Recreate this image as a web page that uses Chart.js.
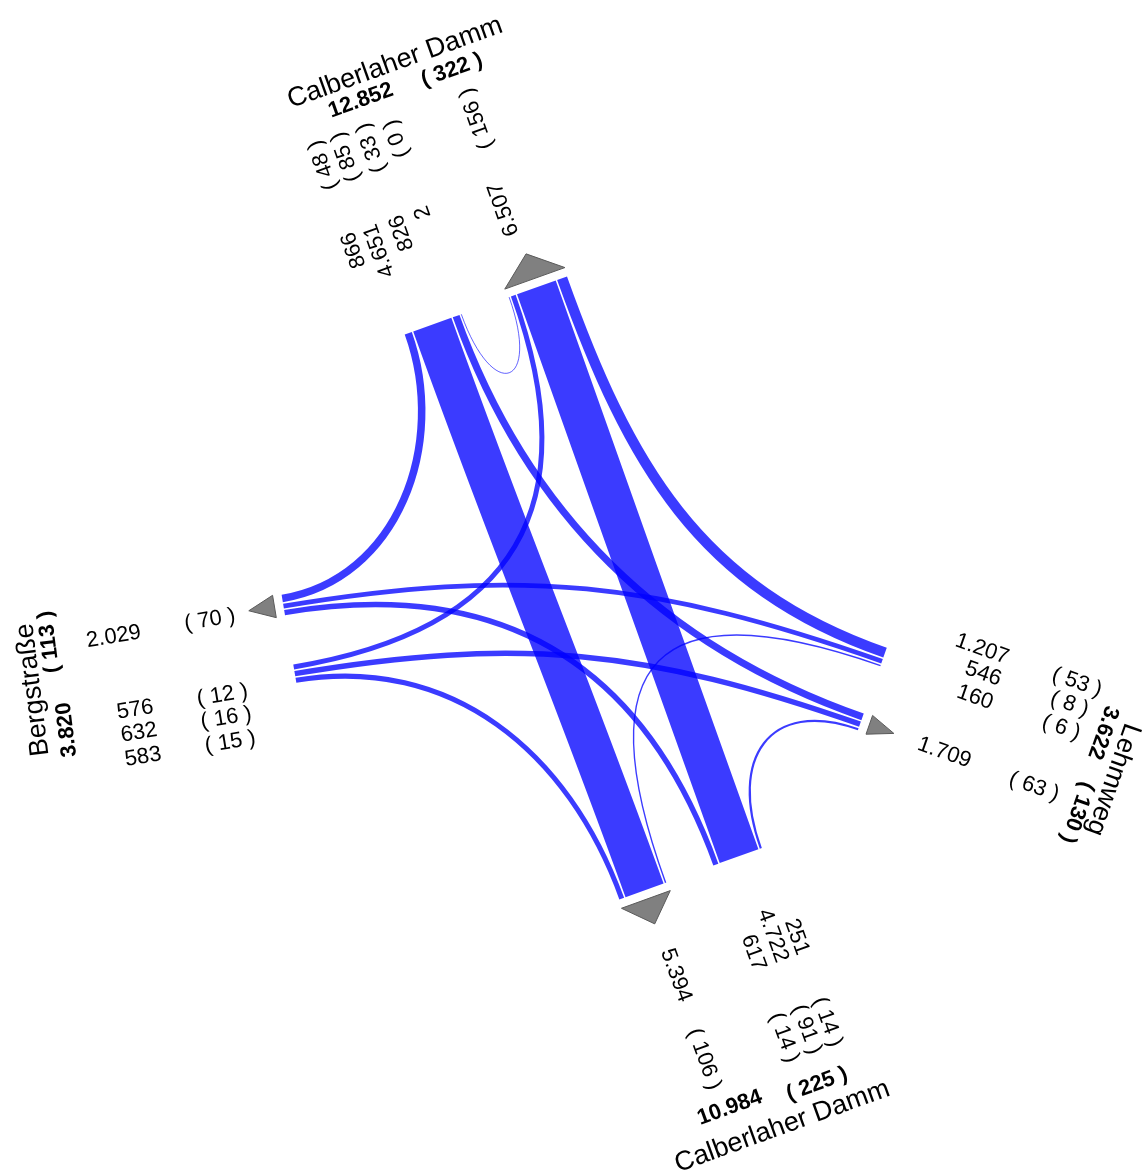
<!DOCTYPE html>
<html>
<head>
<meta charset="utf-8">
<script src="https://cdn.jsdelivr.net/npm/chart.js@4.4.1/dist/chart.umd.min.js"></script>
<style>
  html, body { margin: 0; padding: 0; background: #fff; }
  #wrap { width: 1148px; height: 1174px; }
</style>
</head>
<body>
<div id="wrap"><canvas id="chart"></canvas></div>
<script>
// arms, clockwise: N, E, S, W
const armNames = ['Calberlaher Damm', 'Lehmweg', 'Calberlaher Damm', 'Bergstraße'];
const armTotals = [12852, 3622, 10984, 3820];
const armHeavy = [322, 130, 225, 113];
const exitTotals = [6507, 1709, 5394, 2029];
const exitHeavy = [156, 63, 106, 70];

// flows[from][to], to in order N, E, S, W
const flows = [
  [2, 826, 4651, 866],
  [1207, 0, 160, 546],
  [4722, 251, 0, 617],
  [576, 632, 583, 0]
];
const heavyFlows = [
  [0, 33, 85, 48],
  [53, 0, 6, 8],
  [91, 14, 0, 14],
  [12, 16, 15, 0]
];

// layout of the drawing (data units = px of the sheet)
const center = { x: 587, y: 590 };
const armAngle = [-109.7, 19.3, 70.1, 170.5];
const R = 302, GAP = 25, K = 0.0087, SEP = 1.5;

// label layout per arm
const numRot = [-109.7, 19.3, 70.1, -9.5];
const nameRot = [-19.7, 109.3, -19.9, -97];
const entryLabelT = [[-105, -81, -54, -27], [-74.7, -51.7, -26.8], [-79, -57, -33], [-91.4, -66.8, -43.6]];
const numEndR = [417, 420, 416, 447];
const heavyR = [489, 493, 488, 377];
const exitLabelT = [50, 35.5, 47.5, 32];
const exitHeavyT = [55, 38, 49.5, 32.6];
const exitHeavyR = [481, 487, 481, 377];
const exitNumEndR = [414, 418.5, 420, 447];
const totalPos = [[-48, 537], [-36, 534], [42, 535.5], [-52, 536]];
const totalHeavyPos = [[48, 535], [48, 536], [-48, 543], [37.5, 539]];
const namePos = [[-3, 561], [5, 559], [-1, 571], [-7, 563]];

const FONT = '"Liberation Sans", Arial, sans-serif';

function fmt(n) { return String(n).replace(/\B(?=(\d{3})+(?!\d))/g, '.'); }
const mod4 = (n) => ((n % 4) + 4) % 4;

function armPt(i, t, r) {
  const a = armAngle[i] * Math.PI / 180;
  return {
    x: center.x + r * Math.cos(a) - t * Math.sin(a),
    y: center.y + r * Math.sin(a) + t * Math.cos(a)
  };
}
function radial(i) {
  const a = armAngle[i] * Math.PI / 180;
  return { x: Math.cos(a), y: Math.sin(a) };
}

// lane slots: entry on -t side, exit on +t side, inner to outer: U, L, T, R
function buildSlots() {
  const entry = [], exit = [], exitEdge = [];
  for (let a = 0; a < 4; a++) {
    entry[a] = {};
    let cur = -GAP;
    [a, mod4(a + 1), mod4(a + 2), mod4(a - 1)].forEach(function (b) {
      const v = flows[a][b];
      if (!v) return;
      const w = Math.max(v * K, 0.8);
      entry[a][b] = { t: cur - w / 2, w: w };
      cur -= w + SEP;
    });
  }
  for (let b = 0; b < 4; b++) {
    exit[b] = {};
    let cur = GAP;
    [b, mod4(b - 1), mod4(b + 2), mod4(b + 1)].forEach(function (a) {
      const v = flows[a][b];
      if (!v) return;
      const w = Math.max(v * K, 0.8);
      exit[b][a] = { t: cur + w / 2, w: w };
      cur += w + SEP;
    });
    exitEdge[b] = cur - SEP;
  }
  return { entry, exit, exitEdge };
}

// handle lengths: left turns bend round the crossing point of both lane lines
function handles(a, b, p0, p3) {
  const chord = Math.hypot(p3.x - p0.x, p3.y - p0.y);
  let d0 = Math.max(0.4 * chord, 95), d3 = d0;
  if (b === mod4(a + 1)) {
    const ra = radial(a), rb = radial(b);
    const v0 = { x: -ra.x, y: -ra.y }, v3 = { x: -rb.x, y: -rb.y };
    const den = v0.x * v3.y - v0.y * v3.x;
    const dx = p3.x - p0.x, dy = p3.y - p0.y;
    if (Math.abs(den) > 0.05) {
      const s = (dx * v3.y - v3.x * dy) / den;
      const u = (dx * v0.y - v0.x * dy) / den;
      if (s > 0 && u > 0) { d0 = s * 2 / 3; d3 = u * 2 / 3; }
    }
  }
  return [d0, d3];
}

const flowPlugin = {
  id: 'flowPlugin',
  afterDatasetsDraw(chart) {
    const ctx = chart.ctx;
    const xs = chart.scales.x, ys = chart.scales.y;
    const px = (p) => ({ x: xs.getPixelForValue(p.x), y: ys.getPixelForValue(p.y) });
    const unit = xs.getPixelForValue(1) - xs.getPixelForValue(0);
    const slots = buildSlots();

    // ribbons
    ctx.save();
    ctx.lineCap = 'butt';
    ctx.strokeStyle = 'rgba(0,0,255,0.77)';
    for (let a = 0; a < 4; a++) {
      for (let b = 0; b < 4; b++) {
        if (!flows[a][b]) continue;
        const s = slots.entry[a][b], e = slots.exit[b][a];
        const p0 = armPt(a, s.t, R), p3 = armPt(b, e.t, R);
        const ra = radial(a), rb = radial(b);
        const h = handles(a, b, p0, p3);
        const p1 = { x: p0.x - h[0] * ra.x, y: p0.y - h[0] * ra.y };
        const p2 = { x: p3.x - h[1] * rb.x, y: p3.y - h[1] * rb.y };
        const q0 = px(p0), q1 = px(p1), q2 = px(p2), q3 = px(p3);
        ctx.lineWidth = s.w * unit;
        ctx.beginPath();
        ctx.moveTo(q0.x, q0.y);
        ctx.bezierCurveTo(q1.x, q1.y, q2.x, q2.y, q3.x, q3.y);
        ctx.stroke();
      }
    }
    ctx.restore();

    // exit arrows
    ctx.save();
    ctx.fillStyle = '#808080';
    ctx.strokeStyle = '#5a5a5a';
    ctx.lineWidth = 1;
    for (let b = 0; b < 4; b++) {
      const t0 = GAP - 1, t1 = slots.exitEdge[b] + 1;
      const v1 = px(armPt(b, t0, R + 9)), v2 = px(armPt(b, t1, R + 9)), v3 = px(armPt(b, (t0 + t1) / 2, R + 35));
      ctx.beginPath();
      ctx.moveTo(v1.x, v1.y); ctx.lineTo(v2.x, v2.y); ctx.lineTo(v3.x, v3.y); ctx.closePath();
      ctx.fill(); ctx.stroke();
    }
    ctx.restore();

    // labels
    function text(str, p, rot, font, align) {
      const q = px(p);
      ctx.save();
      ctx.translate(q.x, q.y);
      ctx.rotate(rot * Math.PI / 180);
      ctx.font = font;
      ctx.textAlign = align;
      ctx.textBaseline = 'middle';
      ctx.fillStyle = '#000';
      ctx.fillText(str, 0, 0);
      ctx.restore();
    }
    const numFont = '22px ' + FONT, boldFont = 'bold 22px ' + FONT, nameFont = '27px ' + FONT;
    for (let a = 0; a < 4; a++) {
      const order = [mod4(a - 1), mod4(a + 2), mod4(a + 1), a].filter(b => flows[a][b]);
      order.forEach(function (b, j) {
        const t = entryLabelT[a][j];
        text(fmt(flows[a][b]), armPt(a, t, numEndR[a]), numRot[a], numFont, 'right');
        text('( ' + heavyFlows[a][b] + ' )', armPt(a, t, heavyR[a]), numRot[a], numFont, 'center');
      });
      text(fmt(exitTotals[a]), armPt(a, exitLabelT[a], exitNumEndR[a]), numRot[a], numFont, 'right');
      text('( ' + exitHeavy[a] + ' )', armPt(a, exitHeavyT[a], exitHeavyR[a]), numRot[a], numFont, 'center');
      text(fmt(armTotals[a]), armPt(a, totalPos[a][0], totalPos[a][1]), nameRot[a], boldFont, 'center');
      text('( ' + armHeavy[a] + ' )', armPt(a, totalHeavyPos[a][0], totalHeavyPos[a][1]), nameRot[a], boldFont, 'center');
      text(armNames[a], armPt(a, namePos[a][0], namePos[a][1]), nameRot[a], nameFont, 'center');
    }
  }
};

new Chart(document.getElementById('chart'), {
  type: 'scatter',
  data: { datasets: [{ data: [] }] },
  options: {
    responsive: true,
    maintainAspectRatio: false,
    animation: false,
    events: [],
    layout: { padding: 0 },
    plugins: { legend: { display: false }, tooltip: { enabled: false } },
    scales: {
      x: { type: 'linear', min: 0, max: 1148, display: false },
      y: { type: 'linear', min: 0, max: 1174, reverse: true, display: false }
    }
  },
  plugins: [flowPlugin]
});
</script>
</body>
</html>
